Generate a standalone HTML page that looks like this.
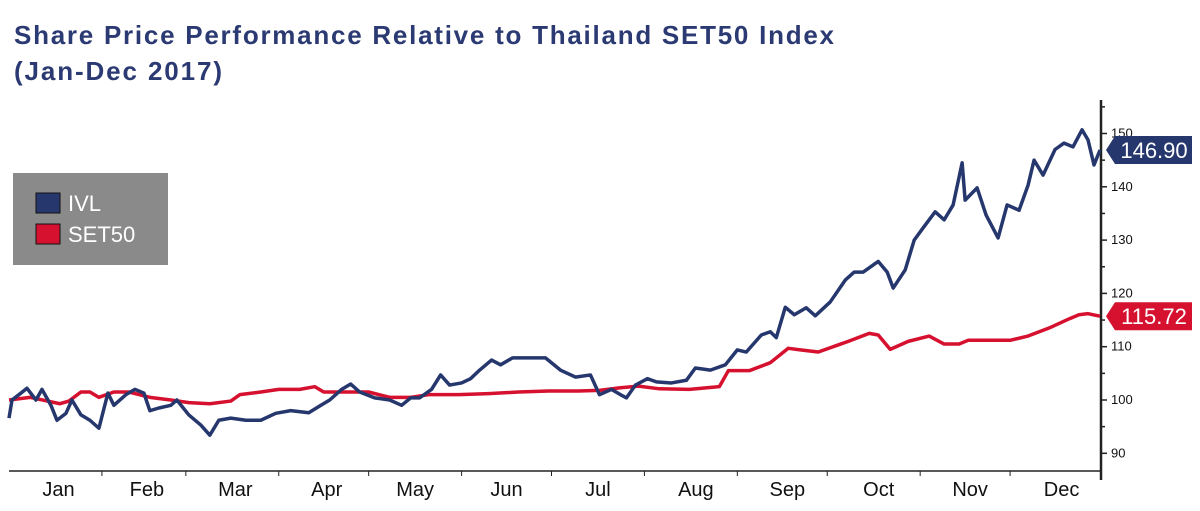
<!DOCTYPE html>
<html><head><meta charset="utf-8"><style>
body{margin:0;background:#fff;}
svg{display:block;font-family:"Liberation Sans",sans-serif;}
</style></head><body>
<svg id="chart" width="1200" height="511">
<text x="14" y="44" font-size="26" font-weight="bold" fill="#2b3a72" textLength="820" lengthAdjust="spacing">Share Price Performance Relative to Thailand SET50 Index</text>
<text x="14" y="80" font-size="26" font-weight="bold" fill="#2b3a72" textLength="208" lengthAdjust="spacing">(Jan-Dec 2017)</text>
<g id="axes"></g>
<g id="series"></g>
<g>
<rect x="13" y="173" width="155" height="92" fill="#8a8a8a"/>
<rect x="36" y="193" width="24" height="20" fill="#26376e" stroke="#111" stroke-width="1"/>
<text x="68" y="211" font-size="22" fill="#fff">IVL</text>
<rect x="36" y="224" width="24" height="20" fill="#d6112f" stroke="#111" stroke-width="1"/>
<text x="68" y="242" font-size="22" fill="#fff">SET50</text>
</g>
<g id="tags"></g>
</svg>
<script>
const months=["Jan","Feb","Mar","Apr","May","Jun","Jul","Aug","Sep","Oct","Nov","Dec"];
const yTicks=[90,100,110,120,130,140,150];
const ivlDays=[0,1,4,6,9,11,14,16,19,21,24,27,30,33,35,39,42,45,47,50,54,56,60,64,67,70,74,79,84,89,94,100,104,107,111,114,117,122,127,131,134,137,141,144,147,151,154,157,161,164,168,174,179,184,189,194,197,201,204,206,209,213,216,221,226,229,234,239,243,246,251,254,256,259,262,266,269,274,279,282,285,290,293,295,299,302,305,309,312,315,318,319,323,326,330,333,337,340,342,345,349,352,355,358,360,362,364];
const ivlValues=[96.6,100,101.3,102.2,100,102,99,96.2,97.5,100,97.2,96.2,94.7,101.3,99,101,102,101.3,98,98.5,99,100,97.2,95.3,93.4,96.2,96.6,96.2,96.2,97.5,98,97.6,99,100,102,103,101.5,100.4,100,99,100.4,100.4,102,104.7,102.8,103.2,104,105.6,107.5,106.6,107.9,107.9,107.9,105.6,104.3,104.7,101,102,101,100.4,102.8,104,103.4,103.2,103.7,106,105.6,106.6,109.4,109,112.2,112.8,111.7,117.4,116,117.3,115.8,118.4,122.5,124,124,126,124,121,124.4,130,132.3,135.3,133.8,136.6,144.5,137.5,139.8,134.7,130.4,136.6,135.6,140.3,145,142.2,147,148.2,147.5,150.7,148.8,144.1,146.9];
const setDays=[0,7,17,20,24,27,30,35,40,47,54,60,67,74,77,84,90,97,102,105,112,120,127,134,140,150,160,170,180,190,197,204,210,217,227,237,240,247,254,260,264,270,277,280,287,290,294,300,307,312,317,320,327,334,340,347,354,357,360,364];
const setValues=[100,100.5,99.3,99.8,101.5,101.5,100.5,101.5,101.5,100.5,100,99.5,99.3,99.8,101,101.5,102,102,102.5,101.5,101.5,101.5,100.5,100.5,101,101,101.2,101.5,101.7,101.7,101.8,102.3,102.6,102.1,102,102.5,105.5,105.5,107,109.7,109.4,109,110.4,111,112.5,112.2,109.5,111,112,110.5,110.5,111.2,111.2,111.2,112,113.5,115.3,116,116.2,115.72];
const lastLabels=["146.90","115.72"];
const NS="http://www.w3.org/2000/svg";
const X0=9,X1=1100,AX=1101,BY=471;
function xScale(d){return X0+(X1-X0)*d/364;}
function yScale(v){return 400-(v-100)*5.33;}
function mk(tag,attrs,parent){const e=document.createElementNS(NS,tag);for(const k in attrs)e.setAttribute(k,attrs[k]);parent.appendChild(e);return e;}
const axes=document.getElementById('axes');
const bx=mk('line',{x1:X0,x2:AX,y1:BY,y2:BY,stroke:'#222','stroke-width':1.5},axes);


const ry=mk('line',{x1:AX,x2:AX,y1:100,y2:480,stroke:'#222','stroke-width':2.5},axes);


const monthStart=[0,31,59,90,120,151,181,212,243,273,304,334,365];
months.forEach((m,i)=>{
  if(i>0){const t=mk('line',{x1:xScale(monthStart[i]),x2:xScale(monthStart[i]),y1:BY,y2:BY+5,stroke:'#222','stroke-width':1},axes);
  
  }
  const off=i<4?3:(i<7?0:5);
  const tx=mk('text',{x:xScale((monthStart[i]+monthStart[i+1])/2)+off,y:496,'font-size':20,fill:'#111','text-anchor':'middle'},axes);
  tx.textContent=m;
  
  
});
for(let v=87.5;v<=155;v+=2.5){
  const major=v%10===0, half=v%5===0;
  if(!half&&!major)continue;
  const t=mk('line',{x1:AX,x2:AX+(major?6:4),y1:yScale(v),y2:yScale(v),stroke:'#222','stroke-width':1.5},axes);
  
  
}
yTicks.forEach(v=>{
  const t=mk('text',{x:AX+10,y:yScale(v)+4,'font-size':13,fill:'#111'},axes);
  t.textContent=v;
  
  
});
const ser=document.getElementById('series');
function line(days,vals,color,name){
  const p=mk('polyline',{points:days.map((d,i)=>xScale(d)+','+yScale(vals[i])).join(' '),fill:'none',stroke:color,'stroke-width':3.5,'stroke-linejoin':'round'},ser);
  
  
}
line(setDays,setValues,'#d6112f','set50-line');
line(ivlDays,ivlValues,'#26376e','ivl-line');
const tags=document.getElementById('tags');
function tag(v,txt,color,name){
  const y=yScale(v);
  const g=mk('g',{},tags);
  
  
  mk('polygon',{points:`1106,${y} 1115,${y-14} 1192,${y-14} 1192,${y+14} 1115,${y+14}`,fill:color},g);
  const t=mk('text',{x:1154,y:y+8,'font-size':22,fill:'#fff','text-anchor':'middle'},g);
  t.textContent=txt;
}
tag(ivlValues[ivlValues.length-1],lastLabels[0],'#26376e','ivl-last-value-tag');
tag(setValues[setValues.length-1],lastLabels[1],'#d6112f','set50-last-value-tag');
</script>
</body></html>
